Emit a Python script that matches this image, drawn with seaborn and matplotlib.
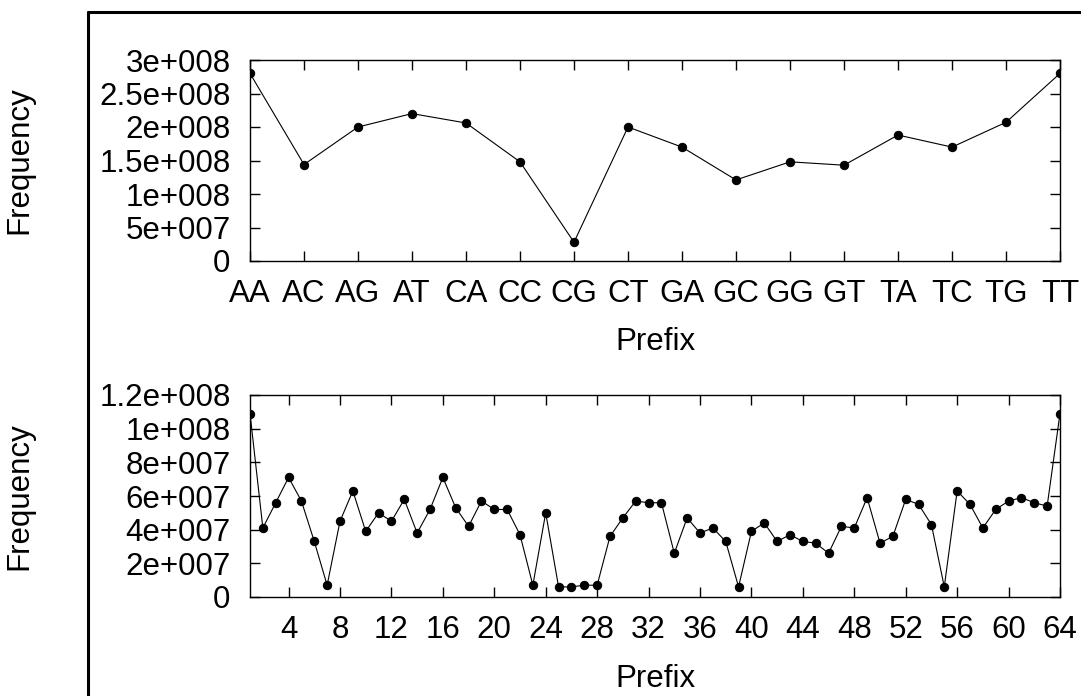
import matplotlib
matplotlib.use("Agg")
import matplotlib.pyplot as plt
import seaborn as sns
import pandas as pd
from matplotlib.lines import Line2D
from matplotlib.ticker import FuncFormatter, MultipleLocator

# ---- data ----
prefixes2 = ["AA", "AC", "AG", "AT", "CA", "CC", "CG", "CT",
             "GA", "GC", "GG", "GT", "TA", "TC", "TG", "TT"]
freq2 = [2.80e8, 1.44e8, 2.00e8, 2.20e8, 2.06e8, 1.48e8, 0.28e8, 2.00e8,
         1.70e8, 1.21e8, 1.48e8, 1.43e8, 1.88e8, 1.70e8, 2.07e8, 2.80e8]

prefix3_idx = list(range(1, 65))
freq3 = [10.9e7, 4.1e7, 5.6e7, 7.1e7, 5.7e7, 3.3e7, 0.7e7, 4.5e7,
         6.3e7, 3.9e7, 5.0e7, 4.5e7, 5.8e7, 3.8e7, 5.2e7, 7.1e7,
         5.3e7, 4.2e7, 5.7e7, 5.2e7, 5.2e7, 3.7e7, 0.7e7, 5.0e7,
         0.6e7, 0.6e7, 0.7e7, 0.7e7, 3.6e7, 4.7e7, 5.7e7, 5.6e7,
         5.6e7, 2.6e7, 4.7e7, 3.8e7, 4.1e7, 3.3e7, 0.6e7, 3.9e7,
         4.4e7, 3.3e7, 3.7e7, 3.3e7, 3.2e7, 2.6e7, 4.2e7, 4.1e7,
         5.9e7, 3.2e7, 3.6e7, 5.8e7, 5.5e7, 4.3e7, 0.6e7, 6.3e7,
         5.5e7, 4.1e7, 5.2e7, 5.7e7, 5.9e7, 5.6e7, 5.4e7, 10.9e7]

xticks3 = list(range(4, 65, 4))

sns.set_style("ticks")
plt.rcParams['font.family'] = ['Liberation Sans', 'DejaVu Sans']
plt.rcParams['text.color'] = 'black'
plt.rcParams['axes.labelcolor'] = 'black'

W, H = 1081, 696
fig = plt.figure(figsize=(W / 100, H / 100), dpi=100)

def fmt(v, pos=None):
    if v == 0:
        return "0"
    s = "%g" % v
    mant, exp = s.split("e")
    sign = exp[0]
    return "%se%s%03d" % (mant, sign, int(exp[1:]))

FS = 22.5

def style(ax, xlabel_top_px, center_px):
    for sp in ax.spines.values():
        sp.set_visible(True)
        sp.set_linewidth(1.0)
        sp.set_color("black")
    ax.tick_params(direction="in", length=7, width=1, top=True, right=True,
                   labelsize=FS, colors="black")
    ax.tick_params(axis="y", pad=14)
    ax.tick_params(axis="x", pad=13)
    ax.yaxis.set_major_formatter(FuncFormatter(fmt))
    ax.set_ylabel("Frequency", fontsize=FS, color="black")
    ax.set_xlabel("Prefix", fontsize=FS, color="black")
    ax.yaxis.set_label_coords(34 / W, 1 - center_px / H, transform=fig.transFigure)
    ax.xaxis.set_label_coords(655 / W, 1 - xlabel_top_px / H, transform=fig.transFigure)
    ax.grid(False)

# top axes
ax1 = fig.add_axes([250 / W, 1 - 261 / H, 810 / W, 201 / H])
df2 = pd.DataFrame({"x": range(len(prefixes2)), "y": freq2})
sns.lineplot(data=df2, x="x", y="y", ax=ax1, color="black", linewidth=0.8,
             marker="o", markersize=6, markeredgecolor="black")
ax1.set_xlim(0, len(prefixes2) - 1)
ax1.set_ylim(0, 3e8)
ax1.yaxis.set_major_locator(MultipleLocator(5e7))
ax1.set_xticks(range(len(prefixes2)))
ax1.set_xticklabels(prefixes2)
style(ax1, 327, 160)

# bottom axes
ax2 = fig.add_axes([250 / W, 1 - 597 / H, 810 / W, 202 / H])
df3 = pd.DataFrame({"x": prefix3_idx, "y": freq3})
sns.lineplot(data=df3, x="x", y="y", ax=ax2, color="black", linewidth=0.8,
             marker="o", markersize=6, markeredgecolor="black")
ax2.set_xlim(1, 64)
ax2.set_ylim(0, 1.2e8)
ax2.yaxis.set_major_locator(MultipleLocator(2e7))
ax2.set_xticks(xticks3)
style(ax2, 664, 496)

# outer frame (partially visible)
fx = 88 / W
fy = 1 - 12 / H
fig.add_artist(Line2D([fx, fx], [0, fy], color="black", linewidth=2.2,
                      transform=fig.transFigure))
fig.add_artist(Line2D([fx, 1], [fy, fy], color="black", linewidth=2.2,
                      transform=fig.transFigure))

fig.savefig("out.png", dpi=100, facecolor="white")
